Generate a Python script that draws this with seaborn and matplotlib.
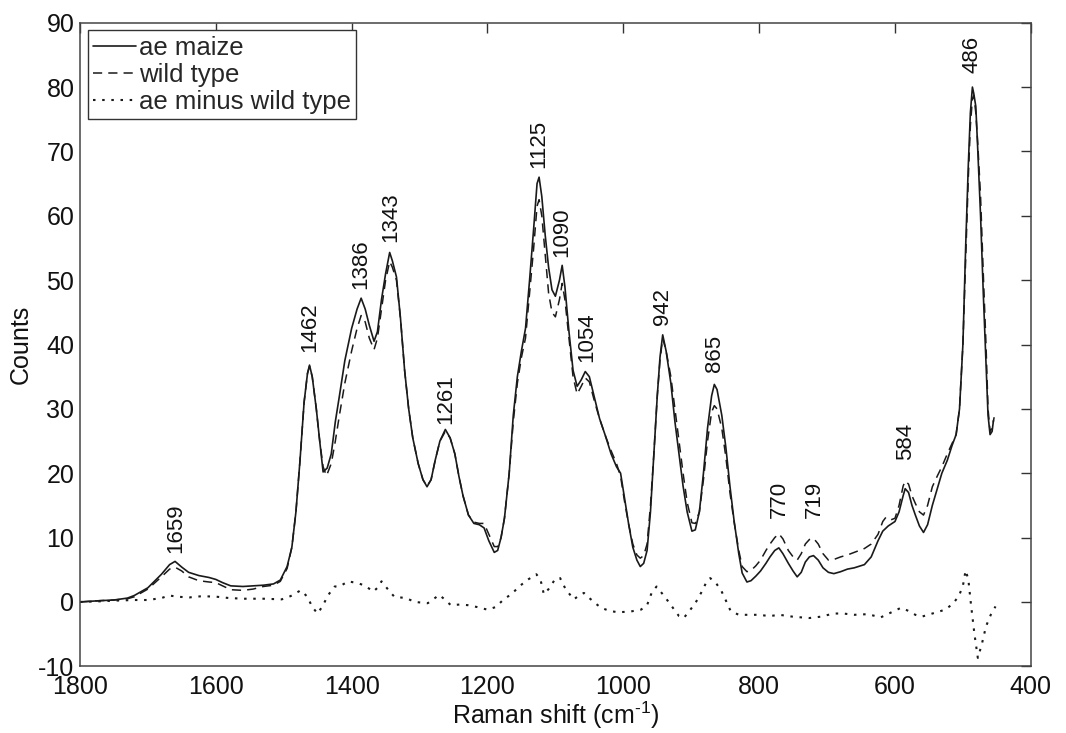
import numpy as np
import pandas as pd
import matplotlib
matplotlib.use("Agg")
import matplotlib.pyplot as plt
import seaborn as sns

# ---------------- data ----------------
ae_x = [1800, 1770, 1750, 1730, 1720, 1700, 1680, 1668, 1660, 1650, 1640, 1625, 1610, 1600, 1590,
        1578, 1560, 1545, 1530, 1515, 1505, 1495, 1488, 1482, 1476, 1470, 1465, 1462, 1458, 1452,
        1447, 1442, 1436, 1430, 1424, 1418, 1410, 1400, 1392, 1386, 1380, 1374, 1367, 1362, 1356,
        1350, 1344, 1340, 1334, 1328, 1322, 1316, 1310, 1302, 1295, 1289, 1283, 1277, 1270, 1262,
        1255, 1248, 1242, 1236, 1228, 1220, 1212, 1205, 1198, 1190, 1185, 1180, 1175, 1168, 1162,
        1156, 1150, 1144, 1138, 1132, 1127, 1124, 1120, 1115, 1110, 1105, 1100, 1094, 1090, 1086,
        1080, 1074, 1068, 1062, 1056, 1050, 1042, 1035, 1026, 1018, 1010, 1004, 998, 992, 986,
        980, 975, 970, 965, 960, 955, 950, 946, 942, 937, 930, 924, 918, 912, 906,
        899, 894, 888, 882, 876, 870, 866, 862, 855, 849, 843, 837, 830, 825, 818,
        812, 805, 798, 790, 784, 777, 771, 765, 757, 750, 744, 738, 732, 726, 720,
        713, 706, 698, 690, 680, 670, 660, 645, 635, 625, 618, 610, 600, 594, 588,
        585, 580, 575, 570, 564, 558, 552, 545, 538, 531, 523, 516, 510, 505, 500,
        496, 492, 489, 486, 484, 481, 478, 474, 470, 466, 463, 460, 457, 455]
ae_y = [0.0, 0.2, 0.3, 0.6, 1.0, 2.2, 4.3, 5.8, 6.3, 5.4, 4.6, 4.1, 3.8, 3.5, 3.0,
        2.5, 2.4, 2.5, 2.6, 2.8, 3.4, 5.5, 8.5, 14, 22, 31, 35.5, 36.8, 35, 30,
        25, 20.2, 20.8, 23, 28, 32, 37.5, 42.5, 45.5, 47.2, 45.5, 43, 40.5, 42, 47,
        51, 54.3, 53, 50.5, 44, 36, 30, 25.5, 21.5, 19, 17.9, 19, 22, 25, 26.8,
        25.5, 23, 19.5, 16.5, 13.5, 12.2, 12, 11.5, 9.5, 7.7, 8.0, 10, 13, 20, 29,
        35, 39, 42.5, 50, 58, 65, 66, 63, 57, 52, 48.5, 47.5, 50, 52.3, 49,
        42, 36, 33.5, 34.5, 35.8, 35, 31.5, 28.5, 25.7, 23, 21, 20, 16, 12, 8.5,
        6.5, 5.5, 6, 8, 14, 23, 32, 38, 41.5, 39, 34, 28, 23, 18, 14,
        11, 11.2, 14, 20, 27, 32, 33.8, 33, 29, 24, 18, 12.7, 7.5, 4.5, 3.1,
        3.3, 4, 4.8, 6, 7, 8, 8.4, 7.5, 6, 4.8, 3.9, 4.6, 6.2, 7, 7.2,
        6.5, 5.3, 4.6, 4.4, 4.7, 5.1, 5.3, 5.8, 7, 9.5, 11, 11.8, 12.5, 14, 16.5,
        17.6, 17, 15, 13.5, 11.8, 10.8, 12, 15, 17.5, 20, 22, 24.3, 26, 30, 40,
        55, 68, 76, 80, 79, 77, 70, 60, 48, 37, 29, 26, 26.5, 28.2]

wt_x = [1800, 1770, 1750, 1730, 1720, 1700, 1680, 1668, 1660, 1650, 1640, 1625, 1610, 1600, 1590,
        1578, 1560, 1545, 1530, 1515, 1505, 1495, 1488, 1482, 1476, 1470, 1465, 1462, 1458, 1452,
        1447, 1442, 1437, 1430, 1424, 1418, 1410, 1400, 1392, 1386, 1380, 1374, 1367, 1362, 1356,
        1350, 1344, 1340, 1334, 1328, 1322, 1316, 1310, 1302, 1295, 1289, 1283, 1277, 1270, 1262,
        1255, 1248, 1242, 1236, 1228, 1220, 1212, 1205, 1198, 1190, 1185, 1180, 1175, 1168, 1162,
        1156, 1150, 1144, 1138, 1132, 1127, 1124, 1120, 1115, 1110, 1105, 1100, 1094, 1090, 1086,
        1080, 1074, 1068, 1062, 1056, 1050, 1042, 1035, 1026, 1018, 1010, 1004, 998, 992, 986,
        980, 975, 970, 965, 960, 955, 950, 946, 942, 937, 930, 924, 918, 912, 906,
        899, 894, 888, 882, 876, 870, 866, 862, 855, 849, 843, 837, 830, 825, 818,
        812, 805, 798, 790, 784, 777, 771, 765, 757, 750, 744, 738, 732, 726, 720,
        713, 706, 698, 690, 680, 670, 660, 645, 635, 625, 618, 613, 605, 600, 594,
        588, 585, 580, 575, 570, 564, 558, 552, 545, 538, 531, 523, 516, 510, 505,
        500, 496, 492, 489, 486, 484, 481, 478, 474, 470, 466, 463, 460, 457, 454]
wt_y = [0.0, 0.2, 0.3, 0.5, 0.8, 2.0, 3.9, 5.1, 5.4, 4.8, 3.9, 3.3, 3.1, 3.0, 2.5,
        1.9, 1.8, 2.0, 2.4, 2.6, 3.2, 5.2, 8.5, 14, 22, 31, 35.5, 36.6, 35, 30,
        25, 21, 19.6, 21.5, 25, 29, 34, 39, 42.5, 44.5, 43.5, 41, 39.2, 41, 45.5,
        50, 52.9, 52, 50, 44, 36, 30, 25.5, 21.5, 19, 18, 19, 22, 25, 26.5,
        25.5, 23, 19.5, 16.5, 13.5, 12.4, 12.2, 12.2, 10.5, 8.6, 8.6, 10, 13, 20, 28,
        34, 38, 41, 48, 55, 61.5, 62.5, 60, 54, 48, 45, 44.3, 47, 49.5, 47,
        41, 35, 32.3, 33.5, 34.8, 34.2, 31, 28.5, 25.7, 23.5, 21.5, 19.5, 15.5, 12, 9,
        7.3, 6.8, 7.2, 9, 15, 23, 32, 37.5, 41, 39, 35, 30, 25, 20, 15.5,
        12.3, 12.2, 14, 19, 25, 29.5, 30.5, 30, 27, 22.5, 17, 12.5, 8, 5.5, 4.7,
        4.9, 5.6, 6.5, 8, 9, 10, 10.6, 9.8, 8, 7, 6.5, 7.5, 9, 9.7, 9.9,
        9, 7.5, 6.5, 6.6, 7, 7.3, 7.7, 8.3, 9, 10.5, 12.5, 13.2, 12.8, 13, 15,
        18, 18.8, 18.3, 16.5, 15.3, 14, 13.5, 15, 17.9, 19.5, 21, 23, 24.6, 26, 30,
        40, 53, 66, 74, 78.2, 78.7, 76, 71, 63, 51, 40, 30, 26.5, 27, 28.7]

diff_x = [1800, 1770, 1750, 1720, 1700, 1680, 1669, 1655, 1639, 1620, 1598, 1580, 1558, 1530, 1503,
          1490, 1475, 1465, 1458, 1450, 1442, 1435, 1425, 1418, 1405, 1390, 1380, 1368, 1362, 1356,
          1350, 1343, 1337, 1320, 1307, 1288, 1280, 1271, 1262, 1254, 1240, 1229, 1215, 1200, 1188,
          1176, 1165, 1151, 1140, 1128, 1122, 1117, 1110, 1100, 1093, 1085, 1073, 1065, 1058, 1050,
          1040, 1033, 1020, 1008, 990, 974, 965, 958, 951, 945, 934, 925, 918, 911, 902,
          894, 885, 878, 872, 864, 856, 848, 842, 830, 815, 800, 785, 770, 750, 726,
          710, 690, 676, 660, 640, 621, 605, 591, 580, 570, 561, 545, 526, 515, 506,
          500, 496, 492, 488, 483, 478, 472, 466, 459, 452]
diff_y = [0.0, 0.1, 0.2, 0.3, 0.3, 0.6, 1.0, 0.8, 0.7, 0.9, 0.8, 0.6, 0.5, 0.5, 0.4,
          0.9, 1.8, 0.8, -0.8, -1.8, -0.5, 1.0, 2.4, 2.4, 3.2, 2.9, 2.5, 1.6, 2.2, 3.2,
          2.4, 1.5, 0.8, 0.6, 0.0, -0.2, 0.4, 1.1, 0.3, -0.5, -0.4, -0.5, -0.8, -1.2, -0.8,
          0.4, 1.2, 2.6, 3.5, 4.3, 3.5, 1.2, 2.0, 3.6, 3.7, 2.0, 0.4, 1.0, 1.4, 0.6,
          -0.3, -0.9, -1.4, -1.6, -1.5, -1.2, -0.5, 1.5, 2.4, 1.6, 0.1, -1.2, -2.2, -2.5, -1.3,
          -0.2, 1.5, 3.0, 3.7, 3.0, 1.8, 0.0, -1.4, -2.0, -2.0, -2.0, -2.2, -2.0, -2.3, -2.5,
          -2.3, -1.8, -1.8, -2.0, -1.9, -2.4, -1.6, -0.9, -1.4, -2.0, -2.3, -1.8, -1.2, -0.3, 0.9,
          2.5, 4.9, 3.5, -0.5, -5.0, -8.7, -6.5, -3.8, -2.0, -0.7]

peak_labels = ["1659", "1462", "1386", "1343", "1261", "1125", "1090", "1054",
               "942", "865", "770", "719", "584", "486"]
peak_x = [1659, 1462, 1386, 1343, 1261, 1125, 1090, 1054, 942, 865, 770, 719, 584, 486]
peak_label_y = [7.6, 38.8, 48.6, 56.0, 27.7, 67.5, 53.6, 37.3, 43.0, 35.8, 13.0, 13.0, 22.0, 82.2]

series_names = ["ae maize", "wild type", "ae minus wild type"]
x_ticks = [1800, 1600, 1400, 1200, 1000, 800, 600, 400]
y_ticks = [-10, 0, 10, 20, 30, 40, 50, 60, 70, 80, 90]

# ---------------- styling ----------------
sns.set_style("white")
plt.rcParams["font.family"] = ["Liberation Sans", "DejaVu Sans"]
plt.rcParams["mathtext.fontset"] = "custom"
plt.rcParams["mathtext.rm"] = "Liberation Sans"
plt.rcParams["mathtext.it"] = "Liberation Sans:italic"
plt.rcParams["mathtext.bf"] = "Liberation Sans:bold"
plt.rcParams["axes.unicode_minus"] = False

fig = plt.figure(figsize=(10.66, 7.33), dpi=100)
ax = fig.add_axes([0.075, 0.091, 0.892, 0.878])

line_color = "#1a1a1a"
frames = [
    (pd.DataFrame({"x": ae_x, "y": ae_y}), "-", 1.2),
    (pd.DataFrame({"x": wt_x, "y": wt_y}), (0, (6, 4)), 1.1),
    (pd.DataFrame({"x": diff_x, "y": diff_y}), (0, (1.2, 3.2)), 1.5),
]
for (df, ls, lw), name in zip(frames, series_names):
    sns.lineplot(data=df, x="x", y="y", ax=ax, color=line_color, linestyle=ls,
                 linewidth=lw, estimator=None, sort=False, label=name)

for lab, px, py in zip(peak_labels, peak_x, peak_label_y):
    ax.text(px, py, lab, rotation=90, ha="center", va="bottom", fontsize=16,
            color="#111111")

ax.set_xlim(1800, 400)
ax.set_ylim(-10, 90)
ax.set_xticks(x_ticks)
ax.set_yticks(y_ticks)
ax.tick_params(direction="in", length=7, width=1, top=True, right=True,
               labelsize=18, colors="#333333", labelcolor="#111111")
ax.tick_params(axis="x", pad=6)
ax.tick_params(axis="y", pad=4)
for s in ax.spines.values():
    s.set_visible(True)
    s.set_color("#444444")
    s.set_linewidth(1.1)

ax.set_xlabel(r"Raman shift (cm$^{\text{-1}}$)", fontsize=18, color="#111111", labelpad=1)
ax.set_ylabel("Counts", fontsize=18, color="#111111", labelpad=4)

leg = ax.legend(loc="upper left", bbox_to_anchor=(0.0, 1.0), borderaxespad=0.3,
                fontsize=18.5, frameon=True, fancybox=False, framealpha=1,
                edgecolor="#333333", handlelength=1.7, handletextpad=0.1,
                labelspacing=0.12, borderpad=0.2)
leg.get_frame().set_linewidth(1.0)

fig.savefig("out.png", dpi=100)
